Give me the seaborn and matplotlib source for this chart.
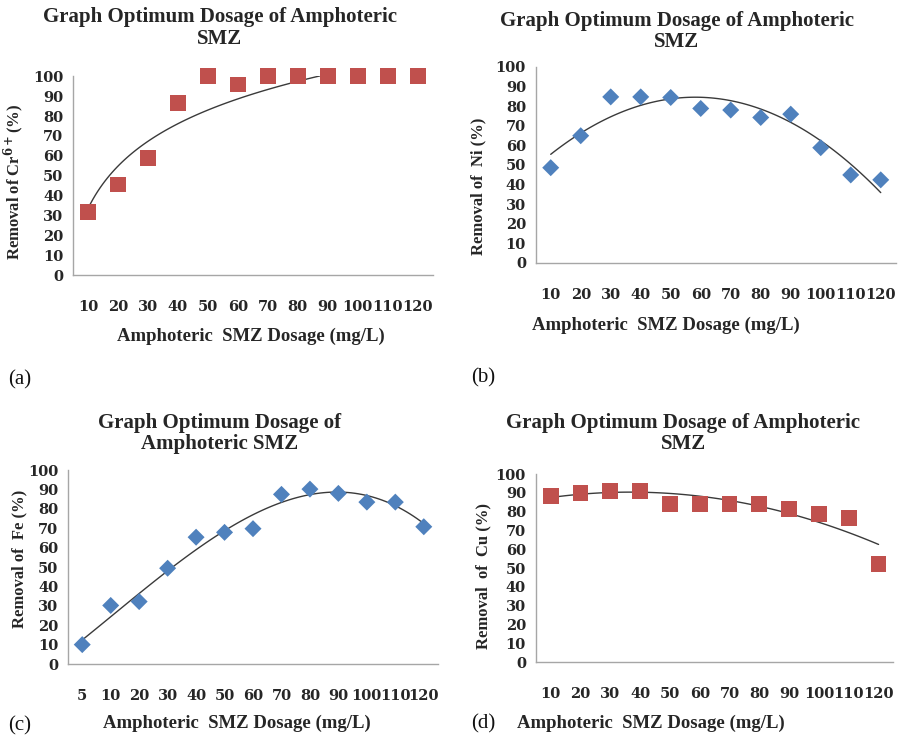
import numpy as np
import matplotlib
matplotlib.use("Agg")
import matplotlib.pyplot as plt
import seaborn as sns
from matplotlib.ticker import FixedLocator

# ---- data ----
dose_12 = ["10", "20", "30", "40", "50", "60", "70", "80", "90", "100", "110", "120"]
dose_13 = ["5", "10", "20", "30", "40", "50", "60", "70", "80", "90", "100", "110", "120"]

cr_removal = [31.8, 45.6, 59.1, 86.6, 100, 95.8, 100, 100, 100, 100, 100, 100]
ni_removal = [48.6, 64.9, 84.7, 84.7, 84.4, 78.8, 78, 74.2, 75.9, 58.8, 44.9, 42.4]
fe_removal = [10, 30.2, 32.2, 49.4, 65.4, 67.9, 69.8, 87.5, 90.2, 88, 83.5, 83.5, 70.8]
cu_removal = [88.5, 89.9, 90.8, 91, 84, 84, 84, 84, 81.2, 78.8, 76.5, 52.2]

# trendline heights read at each category (Excel trendlines)
cr_trend = [33, 54.4, 67.8, 77, 83.7, 89, 93.3, 97, 100]   # log, first 9 doses only
ni_trend = [55.6, 65.8, 74.7, 80.6, 83.7, 84.4, 82.8, 78.4, 71.6, 62.8, 50, 36]
fe_trend = [12.4, 24.4, 36.4, 47.9, 59.1, 68.6, 76.8, 83.7, 87.5, 88.5, 86.8, 81.6, 72.5]
cu_trend = [87.6, 89.4, 90.2, 90.2, 89.4, 87.9, 85.8, 83.2, 79.4, 74.6, 68.8, 62.2]

RED = "#C0504D"
BLUE = "#4F81BD"
TXT = "#262626"
SPINE = "#A6A6A6"

sns.set_style("white")
plt.rcParams["font.family"] = ["Liberation Serif", "DejaVu Serif"]
plt.rcParams["mathtext.fontset"] = "dejavuserif"

fig = plt.figure(figsize=(9.08, 7.40), dpi=100)

def frame(ax, labels, title, t_xy, ylabel, y_xy, x_xy):
    n = len(labels)
    ax.set_xlim(0.5, n + 0.5)
    ax.set_ylim(0, 100)
    ax.set_xticks(np.arange(1, n + 1))
    ax.set_xticklabels(labels, family="DejaVu Serif", fontweight="bold",
                       fontsize=10.5, color=TXT)
    ax.xaxis.set_minor_locator(FixedLocator(np.arange(0.5, n + 1, 1)))
    ax.set_yticks(np.arange(0, 101, 10))
    ax.set_yticklabels([str(v) for v in range(0, 101, 10)], family="DejaVu Serif",
                       fontweight="bold", fontsize=10.5, color=TXT)
    ax.tick_params(axis="x", which="major", length=0, pad=18)
    ax.tick_params(axis="x", which="minor", length=4, color=SPINE, direction="out")
    ax.tick_params(axis="y", length=4, color=SPINE, direction="out", pad=3)
    for s in ["top", "right"]:
        ax.spines[s].set_visible(False)
    for s in ["left", "bottom"]:
        ax.spines[s].set_color(SPINE)
        ax.spines[s].set_linewidth(1)
    ax.text(t_xy[0], t_xy[1], title, transform=ax.transAxes, ha="center", va="center",
            fontsize=15, fontweight="bold", color=TXT, linespacing=1.1)
    ax.set_ylabel(ylabel, fontsize=12, fontweight="bold", color=TXT)
    ax.yaxis.set_label_coords(*y_xy)
    ax.set_xlabel("Amphoteric  SMZ Dosage (mg/L)", fontsize=13.5, fontweight="bold", color=TXT)
    ax.xaxis.set_label_coords(*x_xy)

line_kws = dict(color="#3a3a3a", lw=1)
pos = np.arange(1, 13)
pos13 = np.arange(1, 14)

# (a) Cr6+
ax_a = fig.add_axes([0.0804, 0.628, 0.396, 0.269])
sns.regplot(x=np.arange(1, 10), y=cr_trend, logx=True, scatter=False, ci=None,
            truncate=True, line_kws=line_kws, ax=ax_a)
sns.scatterplot(x=pos, y=cr_removal, marker="s", s=130, color=RED, edgecolor="none",
                ax=ax_a, zorder=3, clip_on=False)
frame(ax_a, dose_12, "Graph Optimum Dosage of Amphoteric\nSMZ", (0.408, 1.241),
      r"Removal of Cr$^{\mathbf{6+}}$(%)", (-0.128, 0.467), (0.494, -0.261))

# (b) Ni
ax_b = fig.add_axes([0.590, 0.6446, 0.3965, 0.265])
sns.scatterplot(x=pos, y=ni_removal, marker="D", s=75, color=BLUE, edgecolor="none",
                ax=ax_b, zorder=3, clip_on=False)
sns.regplot(x=pos, y=ni_trend, order=3, scatter=False, ci=None, truncate=True,
            line_kws=line_kws, ax=ax_b)
frame(ax_b, dose_12, "Graph Optimum Dosage of Amphoteric\nSMZ", (0.392, 1.18),
      "Removal of  Ni (%)", (-0.136, 0.39), (0.362, -0.276))

# (c) Fe
ax_c = fig.add_axes([0.0749, 0.1027, 0.4075, 0.262])
sns.scatterplot(x=pos13, y=fe_removal, marker="D", s=75, color=BLUE, edgecolor="none",
                ax=ax_c, zorder=3, clip_on=False)
sns.regplot(x=pos13, y=fe_trend, order=3, scatter=False, ci=None, truncate=True,
            line_kws=line_kws, ax=ax_c)
frame(ax_c, dose_13, "Graph Optimum Dosage of\nAmphoteric SMZ", (0.41, 1.19),
      "Removal of  Fe (%)", (-0.11, 0.54), (0.456, -0.263))

# (d) Cu
ax_d = fig.add_axes([0.590, 0.1054, 0.394, 0.254])
sns.scatterplot(x=pos, y=cu_removal, marker="s", s=130, color=RED, edgecolor="none",
                ax=ax_d, zorder=3, clip_on=False)
sns.regplot(x=pos, y=cu_trend, order=2, scatter=False, ci=None, truncate=True,
            line_kws=line_kws, ax=ax_d)
frame(ax_d, dose_12, "Graph Optimum Dosage of Amphoteric\nSMZ", (0.413, 1.215),
      "Removal  of  Cu (%)", (-0.123, 0.46), (0.323, -0.282))

# panel letters
for x, y, lab in [(8, 380, "(a)"), (471, 378, "(b)"), (8, 726, "(c)"), (471, 724, "(d)")]:
    fig.text(x / 908, 1 - y / 740, lab, fontsize=15, ha="left", va="center", color="#111111")

fig.savefig("out.png", dpi=100)
